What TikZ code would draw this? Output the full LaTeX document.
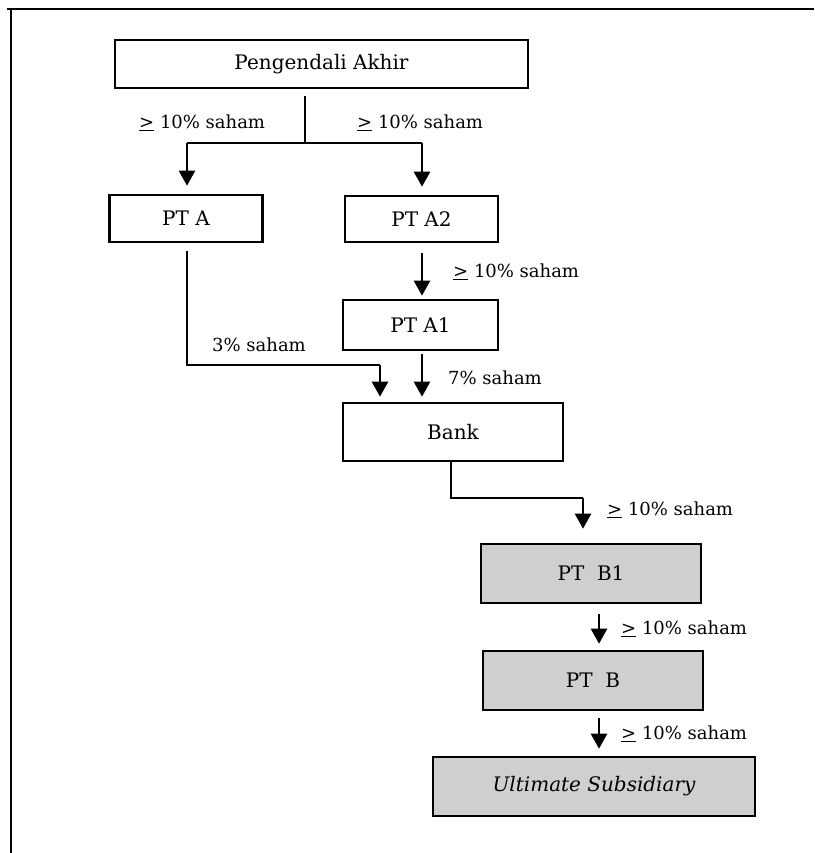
\documentclass[tikz,border=0pt]{standalone}
\usepackage{fontspec}
\setmainfont{DejaVu Serif}
\usetikzlibrary{arrows.meta}
\definecolor{boxgray}{HTML}{D0CFD0}
\tikzset{
  entity/.style={draw=black, line width=2.6pt, fill=white, inner sep=0pt,
    font=\fontsize{20}{24}\selectfont},
  shaded/.style={entity, fill=boxgray},
  link/.style={draw=black, line width=1.2pt},
  arr/.style={draw=black, line width=2.4pt,
    -{Triangle[width=16pt,length=15pt]}},
  share/.style={anchor=west, inner sep=0pt, font=\fontsize{18}{22}\selectfont},
}
\newcommand{\atleast}{\underline{>}}
\begin{document}
\begin{tikzpicture}[x=1pt,y=1pt]
  \useasboundingbox (0,0) rectangle (814,-853);
  \fill[white] (0,0) rectangle (814,-853);
  % page frame (top and left edges)
  \draw[line width=2.6pt] (7,-9) -- (814,-9);
  \draw[line width=2.6pt] (11,-9) -- (11,-853);

  % entities
  \node[entity, minimum width=413pt, minimum height=48pt] (pa) at (321.5,-64) {Pengendali Akhir};
  \node[entity, minimum width=153pt, minimum height=47pt] (a)  at (186,-218.5) {PT A};
  \node[entity, minimum width=153pt, minimum height=46pt] (a2) at (421.5,-219) {PT A2};
  \node[entity, minimum width=155pt, minimum height=50pt] (a1) at (420.5,-325) {PT A1};
  \node[entity, minimum width=220pt, minimum height=58pt] (bank) at (453,-432) {Bank};
  \node[shaded, minimum width=220pt, minimum height=59pt] (b1) at (591,-573.5) {PT\ \ B1};
  \node[shaded, minimum width=220pt, minimum height=59pt] (b)  at (593,-680.5) {PT\ \ B};
  \node[shaded, minimum width=322pt, minimum height=59pt] (us) at (594,-786.5) {\itshape Ultimate Subsidiary};

  % split below the ultimate controller
  \coordinate (split) at (305,-143);
  \coordinate (la) at (187,-143);
  \coordinate (ra) at (422,-143);
  \draw[link] ([yshift=-7pt]pa.south -| split) -- (split);
  \draw[link] (la) -- (ra);
  \draw[arr] (la) -- ([yshift=8pt]a.north -| la);
  \draw[arr] (ra) -- ([yshift=8pt]a2.north -| ra);

  % PT A2 -> PT A1 -> Bank
  \draw[arr] ([yshift=-10pt]a2.south -| ra) -- ([yshift=3pt]a1.north -| ra);
  \draw[arr] ([yshift=-3pt]a1.south -| ra) -- ([yshift=5pt]bank.north -| ra);

  % PT A -> Bank
  \coordinate (abend) at (380,-365);
  \draw[link] ([yshift=-8pt]a.south -| la) |- (abend);
  \draw[arr] (abend) -- ([yshift=5pt]bank.north -| abend);

  % Bank -> PT B1 -> PT B -> Ultimate Subsidiary
  \coordinate (bstart) at (451,-461);
  \coordinate (bbend) at (583,-498);
  \draw[link] (bank.south -| bstart) |- (bbend);
  \draw[arr] (bbend) -- ([yshift=14pt]b1.north -| bbend);
  \coordinate (bx) at (599,0);
  \draw[arr] ([yshift=-10pt]b1.south -| bx) -- ([yshift=6pt]b.north -| bx);
  \draw[arr] ([yshift=-7pt]b.south -| bx) -- ([yshift=7pt]us.north -| bx);

  % ownership labels
  \node[share] (l1) at (139,-123) {\atleast\ 10\% saham};
  \node[share] (l2) at (357,-123) {\atleast\ 10\% saham};
  \node[share] (l3) at (453,-272) {\atleast\ 10\% saham};
  \node[share] (l4) at (212,-345) {3\% saham};
  \node[share] (l5) at (448,-378) {7\% saham};
  \node[share] (l6) at (607,-510) {\atleast\ 10\% saham};
  \node[share] (l7) at (621,-629) {\atleast\ 10\% saham};
  \node[share] (l8) at (621,-734) {\atleast\ 10\% saham};
\end{tikzpicture}
\end{document}
